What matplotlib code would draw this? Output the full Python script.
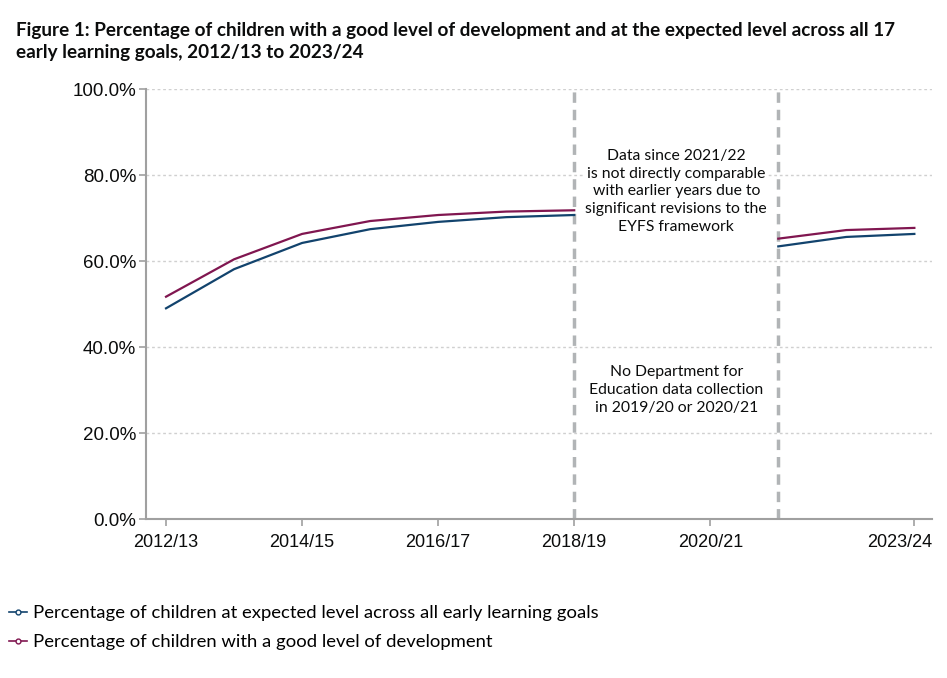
import numpy as np
import matplotlib.pyplot as plt
import matplotlib.transforms as mtransforms
from matplotlib.lines import Line2D

years = ["2012/13", "2013/14", "2014/15", "2015/16", "2016/17", "2017/18",
         "2018/19", "2019/20", "2020/21", "2021/22", "2022/23", "2023/24"]
expected = [49.0, 58.1, 64.2, 67.4, 69.1, 70.2, 70.7, np.nan, np.nan, 63.4, 65.6, 66.3]
good_dev = [51.7, 60.4, 66.3, 69.3, 70.7, 71.5, 71.8, np.nan, np.nan, 65.2, 67.2, 67.7]
shown_ticks = ["2012/13", "2014/15", "2016/17", "2018/19", "2020/21", "2023/24"]
breaks = ["2018/19", "2021/22"]

blue = "#12436D"
purple = "#801650"
grey = "#b1b4b6"

plt.rcParams['font.family'] = ['Lato', 'DejaVu Sans']

fig = plt.figure(figsize=(9.47, 6.78), dpi=100)
ax = fig.add_axes([0.1542, 0.2345, 0.8300, 0.6342])

x = np.arange(len(years))
ax.plot(x, expected, color=blue, linewidth=1.6)
ax.plot(x, good_dev, color=purple, linewidth=1.6)

for b in breaks:
    ax.axvline(years.index(b), color=grey, linewidth=2.5, linestyle=(0, (3, 2)), zorder=1)

ax.set_xlim(-0.294, 11.26)
ax.set_ylim(0, 100)
ax.set_yticks(range(0, 101, 20))
ax.set_yticklabels([f"{v:.1f}%" for v in range(0, 101, 20)],
                   fontfamily="Liberation Sans", fontsize=13.5)
ax.set_xticks([years.index(t) for t in shown_ticks])
ax.set_xticklabels(shown_ticks, fontfamily="Liberation Sans", fontsize=13)
ax.tick_params(colors="#a0a0a0", labelcolor="#0b0c0c", length=5, width=1.2)
ax.tick_params(axis="y", pad=2)
ax.tick_params(axis="x", pad=6)

# last label sits inside the plot edge, as in the original
last = ax.get_xticklabels()[-1]
last.set_horizontalalignment("right")
last.set_transform(last.get_transform() + mtransforms.ScaledTranslation(0.18, 0, fig.dpi_scale_trans))

ax.grid(True, axis="y", color="#d0d0d0", linestyle=(0, (2, 2)), linewidth=1)
ax.set_axisbelow(True)
for s in ["top", "right"]:
    ax.spines[s].set_visible(False)
ax.spines["left"].set_color("#a0a0a0")
ax.spines["left"].set_linewidth(1.5)
ax.spines["bottom"].set_color("#a0a0a0")
ax.spines["bottom"].set_linewidth(1.5)

mid = (years.index("2018/19") + years.index("2021/22")) / 2
ax.text(mid, 76.2, "Data since 2021/22\nis not directly comparable\nwith earlier years due to\n"
        "significant revisions to the\nEYFS framework",
        ha="center", va="center", fontsize=11.3, color="#0b0c0c", linespacing=1.35,
        bbox=dict(facecolor="white", edgecolor="none", pad=1))
ax.text(mid, 30.0, "No Department for\nEducation data collection\nin 2019/20 or 2020/21",
        ha="center", va="center", fontsize=11.3, color="#0b0c0c", linespacing=1.35)

fig.text(0.017, 0.968, "Figure 1: Percentage of children with a good level of development and at the expected level across all 17\n"
         "early learning goals, 2012/13 to 2023/24",
         ha="left", va="top", fontsize=13.6, fontweight="bold", color="#0b0c0c", linespacing=1.4)

handles = [Line2D([0], [0], color=blue, marker="o", markersize=3.5, markerfacecolor="white", linewidth=1.2),
           Line2D([0], [0], color=purple, marker="o", markersize=3.5, markerfacecolor="white", linewidth=1.2)]
labels = ["Percentage of children at expected level across all early learning goals",
          "Percentage of children with a good level of development"]
fig.legend(handles, labels, loc="upper left", bbox_to_anchor=(0.009, 0.107),
           frameon=False, fontsize=13.3, handlelength=1.0, handletextpad=0.3,
           labelspacing=0.68, borderaxespad=0, borderpad=0)

fig.savefig("out.png", dpi=100)
